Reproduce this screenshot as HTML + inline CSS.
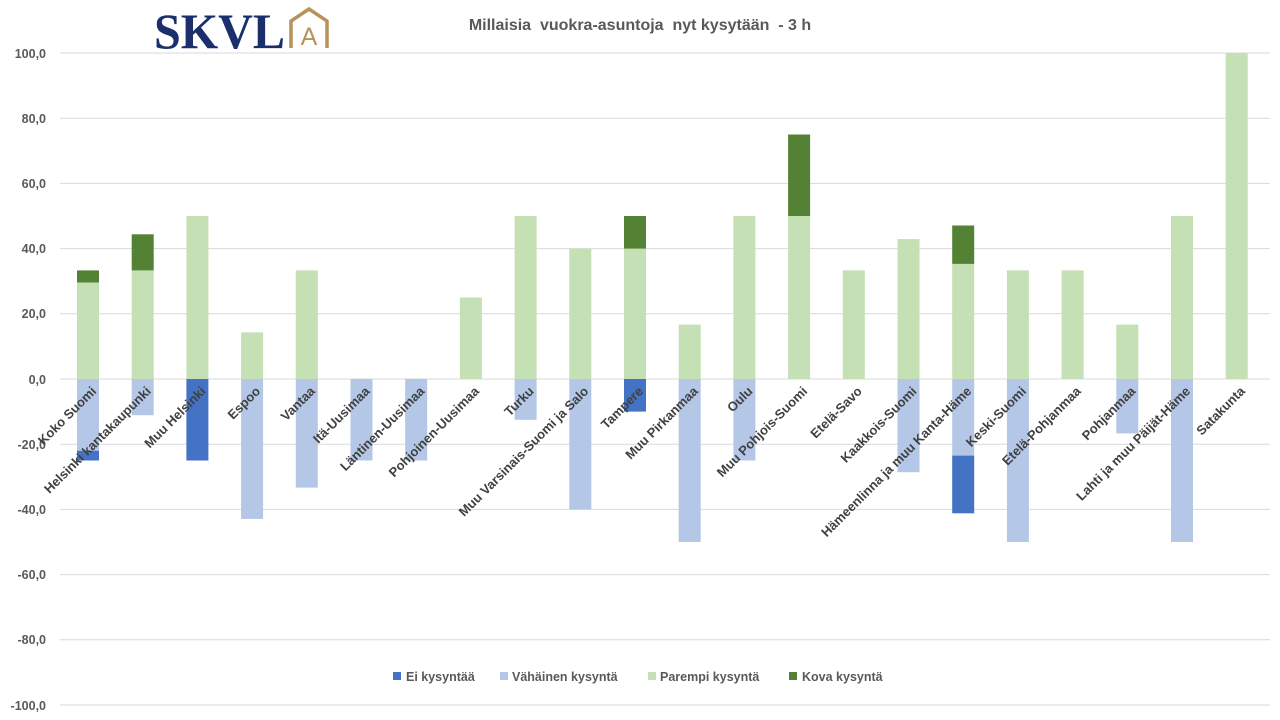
<!DOCTYPE html>
<html><head><meta charset="utf-8"><style>
html,body{margin:0;padding:0;background:#fff;}
svg{display:block;font-family:"Liberation Sans",sans-serif;}
.t{font-size:12.5px;fill:#595959;font-weight:bold;text-anchor:end;}
.c{font-size:13px;fill:#404040;text-anchor:end;font-weight:bold;}
.g{stroke:#d9d9d9;stroke-width:1;}
</style></head><body>
<svg width="1280" height="720" viewBox="0 0 1280 720">
<rect width="1280" height="720" fill="#fff"/>
<g class="g">
<line x1="60" x2="1270" y1="53" y2="53"/><line x1="60" x2="1270" y1="118.2" y2="118.2"/>
<line x1="60" x2="1270" y1="183.4" y2="183.4"/><line x1="60" x2="1270" y1="248.6" y2="248.6"/>
<line x1="60" x2="1270" y1="313.8" y2="313.8"/><line x1="60" x2="1270" y1="379" y2="379"/>
<line x1="60" x2="1270" y1="444.2" y2="444.2"/><line x1="60" x2="1270" y1="509.4" y2="509.4"/>
<line x1="60" x2="1270" y1="574.6" y2="574.6"/><line x1="60" x2="1270" y1="639.8" y2="639.8"/>
<line x1="60" x2="1270" y1="705" y2="705"/>
</g>
<g class="t">
<text x="46" y="58">100,0</text><text x="46" y="123">80,0</text><text x="46" y="188">60,0</text>
<text x="46" y="253">40,0</text><text x="46" y="318">20,0</text><text x="46" y="384">0,0</text>
<text x="46" y="449">-20,0</text><text x="46" y="514">-40,0</text><text x="46" y="579">-60,0</text>
<text x="46" y="644">-80,0</text><text x="46" y="710">-100,0</text>
</g>
<text x="640" y="30" text-anchor="middle" style="font-size:16px;font-weight:bold;fill:#595959">Millaisia&#160; vuokra-asuntoja&#160; nyt kysytään&#160; - 3 h</text>
<!-- logo -->
<text x="154" y="48" textLength="131" lengthAdjust="spacingAndGlyphs" style="font-family:'Liberation Serif',serif;font-size:50px;font-weight:bold;fill:#1a2f6b">SKVL</text>
<path d="M291 48 V21 L309 9 L327 21 V48" fill="none" stroke="#b8925a" stroke-width="3.5"/>
<text x="309" y="45" text-anchor="middle" style="font-size:25px;fill:#b8925a">A</text>
<!-- bars -->
<g>
<rect x="77" y="282.5" width="22" height="96.5" fill="#c5e0b4"/><rect x="77" y="270.4" width="22" height="12.1" fill="#548235"/>
<rect x="77" y="379" width="22" height="71.7" fill="#b4c7e7"/><rect x="77" y="450.7" width="22" height="9.8" fill="#4472c4"/>
<rect x="131.7" y="270.4" width="22" height="108.6" fill="#c5e0b4"/><rect x="131.7" y="234.3" width="22" height="36.1" fill="#548235"/>
<rect x="131.7" y="379" width="22" height="36.2" fill="#b4c7e7"/>
<rect x="186.4" y="216" width="22" height="163" fill="#c5e0b4"/><rect x="186.4" y="379" width="22" height="81.5" fill="#4472c4"/>
<rect x="241.1" y="332.4" width="22" height="46.6" fill="#c5e0b4"/><rect x="241.1" y="379" width="22" height="139.9" fill="#b4c7e7"/>
<rect x="295.8" y="270.4" width="22" height="108.6" fill="#c5e0b4"/><rect x="295.8" y="379" width="22" height="108.6" fill="#b4c7e7"/>
<rect x="350.5" y="379" width="22" height="81.5" fill="#b4c7e7"/>
<rect x="405.2" y="379" width="22" height="81.5" fill="#b4c7e7"/>
<rect x="459.9" y="297.5" width="22" height="81.5" fill="#c5e0b4"/>
<rect x="514.6" y="216" width="22" height="163" fill="#c5e0b4"/><rect x="514.6" y="379" width="22" height="40.8" fill="#b4c7e7"/>
<rect x="569.3" y="248.6" width="22" height="130.4" fill="#c5e0b4"/><rect x="569.3" y="379" width="22" height="130.4" fill="#b4c7e7"/>
<rect x="624" y="248.6" width="22" height="130.4" fill="#c5e0b4"/><rect x="624" y="216" width="22" height="32.6" fill="#548235"/>
<rect x="624" y="379" width="22" height="32.6" fill="#4472c4"/>
<rect x="678.7" y="324.6" width="22" height="54.4" fill="#c5e0b4"/><rect x="678.7" y="379" width="22" height="163" fill="#b4c7e7"/>
<rect x="733.4" y="216" width="22" height="163" fill="#c5e0b4"/><rect x="733.4" y="379" width="22" height="81.5" fill="#b4c7e7"/>
<rect x="788.1" y="216" width="22" height="163" fill="#c5e0b4"/><rect x="788.1" y="134.5" width="22" height="81.5" fill="#548235"/>
<rect x="842.8" y="270.4" width="22" height="108.6" fill="#c5e0b4"/>
<rect x="897.5" y="239.1" width="22" height="139.9" fill="#c5e0b4"/><rect x="897.5" y="379" width="22" height="93.2" fill="#b4c7e7"/>
<rect x="952.2" y="263.9" width="22" height="115.1" fill="#c5e0b4"/><rect x="952.2" y="225.5" width="22" height="38.4" fill="#548235"/>
<rect x="952.2" y="379" width="22" height="76.6" fill="#b4c7e7"/><rect x="952.2" y="455.6" width="22" height="57.7" fill="#4472c4"/>
<rect x="1006.9" y="270.4" width="22" height="108.6" fill="#c5e0b4"/><rect x="1006.9" y="379" width="22" height="163" fill="#b4c7e7"/>
<rect x="1061.6" y="270.4" width="22" height="108.6" fill="#c5e0b4"/>
<rect x="1116.3" y="324.6" width="22" height="54.4" fill="#c5e0b4"/><rect x="1116.3" y="379" width="22" height="54.4" fill="#b4c7e7"/>
<rect x="1171" y="216" width="22" height="163" fill="#c5e0b4"/><rect x="1171" y="379" width="22" height="163" fill="#b4c7e7"/>
<rect x="1225.7" y="53" width="22" height="326" fill="#c5e0b4"/>
</g>
<g class="c">
<text transform="translate(97,392) rotate(-45)">Koko Suomi</text>
<text transform="translate(151.7,392) rotate(-45)">Helsinki kantakaupunki</text>
<text transform="translate(206.4,392) rotate(-45)">Muu Helsinki</text>
<text transform="translate(261.1,392) rotate(-45)">Espoo</text>
<text transform="translate(315.8,392) rotate(-45)">Vantaa</text>
<text transform="translate(370.5,392) rotate(-45)">Itä-Uusimaa</text>
<text transform="translate(425.2,392) rotate(-45)">Läntinen-Uusimaa</text>
<text transform="translate(479.9,392) rotate(-45)">Pohjoinen-Uusimaa</text>
<text transform="translate(534.6,392) rotate(-45)">Turku</text>
<text transform="translate(589.3,392) rotate(-45)">Muu Varsinais-Suomi ja Salo</text>
<text transform="translate(644,392) rotate(-45)">Tampere</text>
<text transform="translate(698.7,392) rotate(-45)">Muu Pirkanmaa</text>
<text transform="translate(753.4,392) rotate(-45)">Oulu</text>
<text transform="translate(808.1,392) rotate(-45)">Muu Pohjois-Suomi</text>
<text transform="translate(862.8,392) rotate(-45)">Etelä-Savo</text>
<text transform="translate(917.5,392) rotate(-45)">Kaakkois-Suomi</text>
<text transform="translate(972.2,392) rotate(-45)">Hämeenlinna ja muu Kanta-Häme</text>
<text transform="translate(1026.9,392) rotate(-45)">Keski-Suomi</text>
<text transform="translate(1081.6,392) rotate(-45)">Etelä-Pohjanmaa</text>
<text transform="translate(1136.3,392) rotate(-45)">Pohjanmaa</text>
<text transform="translate(1191,392) rotate(-45)">Lahti ja muu Päijät-Häme</text>
<text transform="translate(1245.7,392) rotate(-45)">Satakunta</text>
</g>
<g style="font-size:12.5px;font-weight:bold;fill:#595959">
<rect x="393" y="672" width="8" height="8" fill="#4472c4"/><text x="406" y="681">Ei kysyntää</text>
<rect x="500" y="672" width="8" height="8" fill="#b4c7e7"/><text x="512" y="681">Vähäinen kysyntä</text>
<rect x="648" y="672" width="8" height="8" fill="#c5e0b4"/><text x="660" y="681">Parempi kysyntä</text>
<rect x="789" y="672" width="8" height="8" fill="#548235"/><text x="802" y="681">Kova kysyntä</text>
</g>
</svg>
</body></html>
